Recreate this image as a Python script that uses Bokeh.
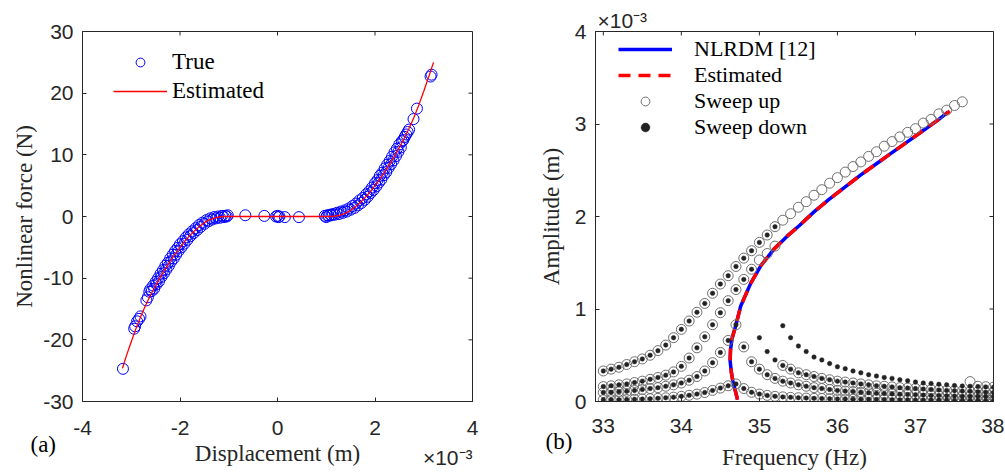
from bokeh.plotting import figure
from bokeh.layouts import row
from bokeh.models import FixedTicker, Range1d, Legend, LegendItem, Title
from bokeh.embed import file_html
from bokeh.resources import INLINE

# ---------------- Panel (a) data (displacement in 1e-3 m, force in N) ----------------
true_x = [-3.17, -2.94, -2.92, -2.88, -2.84, -2.81, -2.69, -2.66, -2.63, -2.61,
          -2.58, -2.55, -2.53, -2.50, -2.48, -2.45, -2.43, -2.40, -2.38, -2.35, -2.33, -2.30, -2.28,
          -2.25, -2.23, -2.20, -2.18, -2.15, -2.13, -2.10, -2.08, -2.05, -2.03, -2.00, -1.97, -1.94,
          -1.91, -1.88, -1.85, -1.82, -1.79, -1.75, -1.72, -1.68, -1.65, -1.61, -1.58, -1.54, -1.50,
          -1.46, -1.42, -1.38, -1.34, -1.30, -1.26, -1.22, -1.18, -1.14, -1.10, -1.07, -1.04, -1.02,
          -0.66, -0.27, -0.03, 0.00, 0.02, 0.04, 0.15, 0.44,
          0.97, 1.00, 1.02, 1.05, 1.08, 1.11, 1.14, 1.18, 1.22, 1.26, 1.30, 1.34, 1.38, 1.42, 1.46,
          1.50, 1.54, 1.58, 1.61, 1.65, 1.68, 1.72, 1.75, 1.79, 1.82, 1.85, 1.88, 1.91, 1.94, 1.97,
          2.00, 2.03, 2.05, 2.08, 2.10, 2.13, 2.15, 2.18, 2.20, 2.23, 2.25, 2.28, 2.30, 2.33, 2.35,
          2.38, 2.40, 2.43, 2.45, 2.48, 2.50, 2.53, 2.55, 2.58, 2.61, 2.64, 2.67, 2.70,
          2.79, 2.86, 3.14, 3.16]
true_y = [-24.7, -18.2, -17.8, -17.0, -16.6, -16.2, -13.6, -13.1, -12.2, -11.8,
          -12.1, -11.2, -11.7, -10.6, -11.0, -10.0, -10.5, -9.3, -9.8, -8.7, -9.2, -8.0, -8.6,
          -7.5, -8.0, -6.8, -7.3, -6.2, -6.8, -5.6, -6.2, -5.1, -5.6, -4.5, -5.0, -4.0,
          -4.4, -3.4, -3.8, -2.9, -3.2, -2.4, -2.7, -1.9, -2.2, -1.4, -1.7, -1.0, -1.2,
          -0.6, -0.8, -0.3, -0.5, -0.1, -0.3, 0.0, -0.2, 0.1, -0.1, 0.1, 0.0, 0.2,
          0.2, 0.1, 0.0, 0.1, -0.1, 0.0, -0.1, -0.1,
          0.1, -0.1, 0.2, 0.1, 0.3, 0.2, 0.4, 0.3, 0.6, 0.4, 0.8, 0.6, 1.0, 0.8, 1.3,
          1.1, 1.7, 1.4, 2.1, 1.8, 2.6, 2.2, 3.0, 2.7, 3.6, 3.2, 4.1, 3.8, 4.7, 4.3,
          5.4, 4.9, 5.9, 5.5, 6.6, 6.0, 7.1, 6.7, 7.8, 7.2, 8.4, 7.9, 9.0, 8.5, 9.7,
          9.1, 10.4, 9.8, 11.0, 10.5, 11.7, 11.2, 12.2, 12.4, 12.9, 13.3, 13.7, 14.1,
          15.8, 17.5, 22.7, 23.0]

est_x = [-3.18, -3.1, -3.0, -2.9, -2.8, -2.7, -2.6, -2.5, -2.4, -2.3, -2.2, -2.1, -2.0, -1.9,
         -1.8, -1.7, -1.6, -1.5, -1.4, -1.3, -1.2, -1.1, -1.0, 0.0, 1.0, 1.1, 1.2, 1.3, 1.4, 1.5,
         1.6, 1.7, 1.8, 1.9, 2.0, 2.1, 2.2, 2.3, 2.4, 2.5, 2.6, 2.7, 2.8, 2.9, 3.0, 3.1, 3.2]
est_y = [-24.6, -22.6, -20.3, -18.1, -16.1, -14.3, -12.7, -11.2, -9.8, -8.5, -7.2, -6.1, -5.0,
         -4.0, -3.1, -2.3, -1.6, -1.0, -0.55, -0.25, -0.08, 0.0, 0.0, 0.0, 0.0, 0.0, 0.08, 0.25,
         0.55, 1.0, 1.6, 2.3, 3.1, 4.0, 5.0, 6.1, 7.2, 8.5, 9.8, 11.2, 12.7, 14.3, 16.1, 18.1,
         20.3, 22.6, 25.0]

# ---------------- Panel (b) data (frequency in Hz, amplitude in 1e-3 m) ----------------
freq = [33.0, 33.1, 33.2, 33.3, 33.4, 33.5, 33.6, 33.7, 33.8, 33.9,
        34.0, 34.1, 34.2, 34.3, 34.4, 34.5, 34.6, 34.7, 34.8, 34.9,
        35.0, 35.1, 35.2, 35.3, 35.4, 35.5, 35.6, 35.7, 35.8, 35.9,
        36.0, 36.1, 36.2, 36.3, 36.4, 36.5, 36.6, 36.7, 36.8, 36.9,
        37.0, 37.1, 37.2, 37.3, 37.4, 37.5, 37.6, 37.7, 37.8, 37.9, 38.0]

a_up_1 = [0.33, 0.35, 0.37, 0.40, 0.43, 0.46, 0.50, 0.55, 0.61, 0.69,
          0.78, 0.87, 0.965, 1.06, 1.17, 1.27, 1.36, 1.46, 1.55, 1.63,
          1.72, 1.80, 1.89, 1.96, 2.03, 2.10, 2.16, 2.23, 2.29, 2.36,
          2.42, 2.48, 2.54, 2.59, 2.65, 2.70, 2.76, 2.81, 2.86, 2.91,
          2.95, 3.01, 3.05, 3.11, 3.15, 3.20, 3.24, 0.215, 0.165, 0.160, 0.155]
a_down_1 = [0.33, 0.35, 0.37, 0.40, 0.43, 0.46, 0.50, 0.55, 0.61, 0.69,
            0.78, 0.87, 0.965, 1.06, 1.17, 1.27, 1.36, 1.46, 1.55, 1.63,
            1.72, 1.80, 1.89, 0.82, 0.69, 0.60, 0.54, 0.48, 0.45, 0.41,
            0.376, 0.355, 0.33, 0.31, 0.29, 0.275, 0.26, 0.25, 0.235, 0.225,
            0.21, 0.20, 0.195, 0.187, 0.18, 0.173, 0.168, 0.165, 0.161, 0.158, 0.154]
a_up_2 = [0.161, 0.17, 0.18, 0.19, 0.205, 0.22, 0.24, 0.26, 0.285, 0.32,
          0.38, 0.47, 0.58, 0.70, 0.83, 0.96, 1.09, 1.21, 1.32, 1.43,
          1.53, 1.60, 1.68, 0.39, 0.35, 0.31, 0.29, 0.27, 0.25, 0.235,
          0.22, 0.21, 0.20, 0.19, 0.18, 0.17, 0.165, 0.158, 0.15, 0.145,
          0.14, 0.135, 0.13, 0.125, 0.12, 0.117, 0.113, 0.11, 0.105, 0.10, 0.097]
a_down_2 = [0.161, 0.17, 0.18, 0.19, 0.205, 0.22, 0.24, 0.26, 0.285, 0.32,
            0.38, 0.47, 0.58, 0.70, 0.83, 0.96, 1.09, 1.21, 1.32, 1.43,
            0.69, 0.54, 0.45, 0.39, 0.35, 0.31, 0.29, 0.27, 0.25, 0.235,
            0.22, 0.21, 0.20, 0.19, 0.18, 0.17, 0.165, 0.158, 0.15, 0.145,
            0.14, 0.135, 0.13, 0.125, 0.12, 0.117, 0.113, 0.11, 0.105, 0.10, 0.097]
a_3 = [0.097, 0.10, 0.105, 0.11, 0.12, 0.13, 0.14, 0.15, 0.165, 0.18,
       0.20, 0.23, 0.27, 0.33, 0.42, 0.53, 0.66, 0.83, 0.59, 0.43,
       0.35, 0.29, 0.25, 0.22, 0.20, 0.18, 0.165, 0.15, 0.14, 0.13,
       0.12, 0.113, 0.107, 0.10, 0.095, 0.09, 0.086, 0.082, 0.078, 0.075,
       0.072, 0.069, 0.066, 0.064, 0.062, 0.06, 0.058, 0.057, 0.056, 0.055, 0.054]
a_4 = [0.018, 0.019, 0.02, 0.022, 0.024, 0.027, 0.03, 0.034, 0.04, 0.047,
       0.056, 0.067, 0.08, 0.097, 0.12, 0.145, 0.17, 0.19, 0.14, 0.10,
       0.08, 0.066, 0.056, 0.05, 0.045, 0.041, 0.037, 0.034, 0.032, 0.03,
       0.028, 0.026, 0.025, 0.024, 0.023, 0.022, 0.021, 0.02, 0.019, 0.018,
       0.017, 0.016, 0.016, 0.015, 0.015, 0.014, 0.014, 0.013, 0.013, 0.012, 0.012]

nlrdm_f = [34.72, 34.69, 34.66, 34.64, 34.625, 34.63, 34.65, 34.70, 34.76, 34.89, 35.02, 35.19,
           35.36, 35.51, 35.7, 35.9, 36.1, 36.3, 36.5, 36.7, 36.9, 37.1, 37.3, 37.42]
nlrdm_a = [0.02, 0.12, 0.22, 0.32, 0.44, 0.56, 0.68, 0.83, 1.03, 1.28, 1.47, 1.65,
           1.79, 1.90, 2.05, 2.19, 2.32, 2.45, 2.57, 2.69, 2.81, 2.93, 3.05, 3.13]
estb_f = [34.72, 34.69, 34.66, 34.64, 34.625, 34.63, 34.65, 34.70, 34.76, 34.89, 35.02, 35.19,
          35.36, 35.51, 35.7, 35.9, 36.1, 36.3, 36.5, 36.7, 36.9, 37.1, 37.3, 37.44]
estb_a = [0.02, 0.12, 0.22, 0.32, 0.44, 0.56, 0.68, 0.83, 1.03, 1.28, 1.47, 1.65,
          1.79, 1.90, 2.05, 2.19, 2.32, 2.45, 2.57, 2.69, 2.81, 2.93, 3.05, 3.14]

# tick positions / labels
xa_ticks = [-4, -2, 0, 2, 4]
ya_ticks = [-30, -20, -10, 0, 10, 20, 30]
xb_ticks = [33, 34, 35, 36, 37, 38]
yb_ticks = [0, 1, 2, 3, 4]

AX = "#262626"
SANS = "Liberation Sans"
SERIF = "Liberation Serif"
H = 475
TICK = 4


def style(p, xt, yt, ylabel, x_std, y_lab_std, fw, fh):
    p.xaxis.ticker = FixedTicker(ticks=xt)
    p.yaxis.ticker = FixedTicker(ticks=yt)
    p.xaxis.major_label_overrides = {t: str(t) for t in xt}
    p.yaxis.major_label_overrides = {t: str(t) for t in yt}
    p.yaxis.axis_label = ylabel
    for ax in (p.xaxis[0], p.yaxis[0]):
        ax.axis_line_color = AX
        ax.major_tick_line_color = AX
        ax.major_tick_in = TICK
        ax.major_tick_out = 0
        ax.minor_tick_line_color = None
        ax.major_label_text_font = SANS
        ax.major_label_text_font_size = "21px"
        ax.major_label_text_color = AX
        ax.axis_label_text_font = SERIF
        ax.axis_label_text_font_size = "23px"
        ax.axis_label_text_font_style = "normal"
        ax.axis_label_text_color = AX
    p.xaxis.major_label_standoff = x_std
    p.yaxis.major_label_standoff = 9
    p.yaxis.axis_label_standoff = y_lab_std
    p.xgrid.grid_line_color = None
    p.ygrid.grid_line_color = None
    p.outline_line_color = AX
    p.outline_line_width = 1
    p.background_fill_color = "white"
    p.border_fill_color = "white"
    # inward ticks on the top and right edges of the box (MATLAB style)
    x0, x1 = p.x_range.start, p.x_range.end
    y0, y1 = p.y_range.start, p.y_range.end
    dx = (x1 - x0) / fw * TICK
    dy = (y1 - y0) / fh * TICK
    p.segment(x0=xt, y0=[y1] * len(xt), x1=xt, y1=[y1 - dy] * len(xt),
              line_color=AX, line_width=1)
    p.segment(x0=[x1] * len(yt), y0=yt, x1=[x1 - dx] * len(yt), y1=yt,
              line_color=AX, line_width=1)


def below_text(p, text, font, size, align, offset, standoff, color):
    # texts under the x axis, stacked by Bokeh in the lower side panel
    p.add_layout(Title(text=text, align=align, offset=offset, standoff=standoff,
                       vertical_align="top", text_font=font, text_font_size=size,
                       text_font_style="normal", text_color=color), "below")


# ---------------- Figure (a) ----------------
pa = figure(width=500, height=H, output_backend="svg", toolbar_location=None,
            x_range=Range1d(-4, 4), y_range=Range1d(-30, 30),
            min_border_left=82, min_border_right=28, min_border_top=31, min_border_bottom=74)
style(pa, xa_ticks, ya_ticks, "Nonlinear force (N)", x_std=19, y_lab_std=3, fw=390, fh=370)
r_true = pa.scatter(true_x, true_y, marker="circle", size=11, fill_color=None,
                    line_color="#0000ff", line_width=1)
r_est = pa.line(est_x, est_y, line_color="#ff0000", line_width=1.3)
leg_a = Legend(items=[LegendItem(label="True", renderers=[r_true]),
                      LegendItem(label="Estimated", renderers=[r_est])],
               location=(31, 297), glyph_width=54, glyph_height=22, label_standoff=5,
               spacing=3, padding=0, margin=0, border_line_alpha=0, background_fill_alpha=0,
               label_text_font=SERIF, label_text_font_size="23px", label_text_color="black")
pa.add_layout(leg_a, "center")
below_text(pa, "(a)", SERIF, "23px", "left", -52, -12, "black")
below_text(pa, "Displacement (m)", SERIF, "23px", "center", 0, -23, AX)
below_text(pa, "×10⁻³", SANS, "21px", "right", 0, -22, AX)

# ---------------- Figure (b) ----------------
pb = figure(width=504, height=H, output_backend="svg", toolbar_location=None,
            x_range=Range1d(32.9, 38.0), y_range=Range1d(0, 4),
            min_border_left=95, min_border_right=11, min_border_top=31, min_border_bottom=71)

up_f = freq + freq + freq + freq
up_a = a_up_1 + a_up_2 + a_3 + a_4
down_f = freq + freq + freq + freq
down_a = a_down_1 + a_down_2 + a_3 + a_4

r_nl = pb.line(nlrdm_f, nlrdm_a, line_color="#0000ff", line_width=3.5)
r_eb = pb.line(estb_f, estb_a, line_color="#ff0000", line_width=3.5, line_dash="12 8")
r_up = pb.scatter(up_f, up_a, marker="circle", size=10, fill_color=None,
                  line_color="#707070", line_width=1)
r_dn = pb.scatter(down_f, down_a, marker="circle", size=4.5, fill_color="#222222",
                  line_color="#222222", line_width=0.5)
style(pb, xb_ticks, yb_ticks, "Amplitude (m)", x_std=17, y_lab_std=8, fw=398, fh=373)
leg_b = Legend(items=[LegendItem(label="NLRDM [12]", renderers=[r_nl]),
                      LegendItem(label="Estimated", renderers=[r_eb]),
                      LegendItem(label="Sweep up", renderers=[r_up]),
                      LegendItem(label="Sweep down", renderers=[r_dn])],
               location=(23, 261), glyph_width=54, glyph_height=22, label_standoff=22,
               spacing=0, padding=0, margin=0, border_line_alpha=0, background_fill_alpha=0,
               label_text_font=SERIF, label_text_font_size="22px", label_text_color="black")
pb.add_layout(leg_b, "center")
below_text(pb, "(b)", SERIF, "23px", "left", -50, -14, "black")
below_text(pb, "Frequency (Hz)", SERIF, "23px", "center", 0, -7, AX)
pb.add_layout(Title(text="×10⁻³", align="left", offset=2, standoff=0,
                    text_font=SANS, text_font_size="21px", text_font_style="normal",
                    text_color=AX), "above")

layout = row(pa, pb)
open("out.html", "w").write(file_html(layout, INLINE))
